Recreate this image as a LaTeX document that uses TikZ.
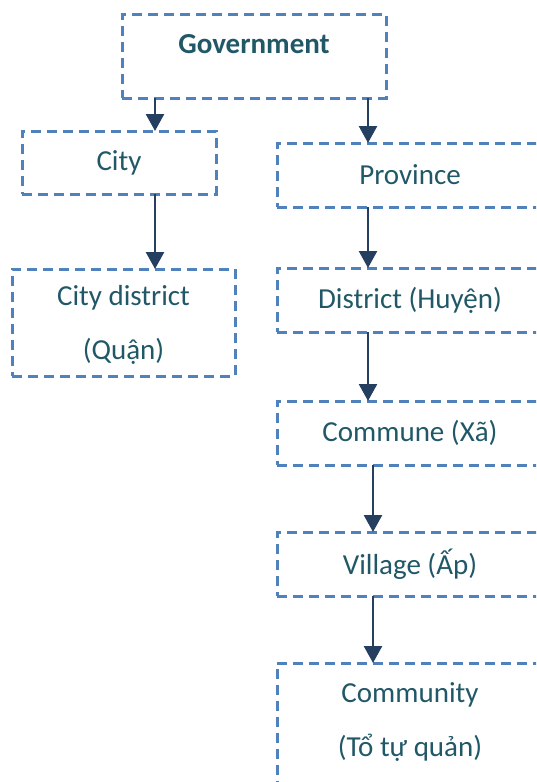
\documentclass[tikz,border=0pt]{standalone}
\usepackage{fontspec}
\setmainfont{Carlito}
\usepackage{xcolor}
\usetikzlibrary{arrows.meta,positioning}

\definecolor{dashblue}{HTML}{4F81BD}
\definecolor{labelteal}{HTML}{215868}
\definecolor{arrownavy}{HTML}{243F60}

\tikzset{
  unit/.style={draw=dashblue, line width=1.5pt, dash pattern=on 5pt off 3pt,
    text=labelteal, font=\fontsize{14.5pt}{27pt}\selectfont, align=center,
    minimum height=32pt, inner sep=0pt, outer sep=0pt},
  tier/.style={unit, minimum width=133pt},
  link/.style={draw=arrownavy, line width=1.3pt, -{Triangle[length=8.5pt,width=9pt]}}
}

\begin{document}
\begin{tikzpicture}
  \useasboundingbox (0,0) rectangle (268pt,-391pt);
  \clip (0,0) rectangle (268pt,-391pt);

  % top level
  \node[unit, minimum width=132pt, minimum height=42pt, text depth=12pt,
        font=\bfseries\fontsize{14.5pt}{27pt}\selectfont] (govt) at (127pt,-28pt) {Government};

  % city branch
  \node[unit, minimum width=97pt, minimum height=31.5pt] (city) at (59.5pt,-81.25pt) {City};
  \node[unit, minimum width=111.5pt, minimum height=53.5pt, text depth=0pt] (citydist) at (61.75pt,-161.25pt) {City district\\(Quận)};

  % province branch
  \node[tier] (province) at (205pt,-87.5pt) {Province};
  \node[tier, below=30.5pt of province] (district) {District (Huyện)};
  \node[tier, below=34.5pt of district] (commune) {Commune (Xã)};
  \node[tier, below=33.5pt of commune] (village) {Village (Ấp)};
  \node[tier, below=33.5pt of village, minimum height=75pt, text depth=18.4pt] (community) {Community\\(Tổ tự quản)};

  \draw[link] ([xshift=18pt]city.north |- govt.south) -- ([xshift=18pt]city.north);
  \draw[link] ([xshift=-21pt]province.north |- govt.south) -- ([xshift=-21pt]province.north);
  \draw[link] ([xshift=18pt]city.south) -- ([xshift=18pt]city.south |- citydist.north);
  \draw[link] ([xshift=-21pt]province.south) -- ([xshift=-21pt]district.north);
  \draw[link] ([xshift=-21pt]district.south) -- ([xshift=-21pt]commune.north);
  \draw[link] ([xshift=-18.5pt]commune.south) -- ([xshift=-18.5pt]village.north);
  \draw[link] ([xshift=-18.5pt]village.south) -- ([xshift=-18.5pt]community.north);
\end{tikzpicture}
\end{document}
